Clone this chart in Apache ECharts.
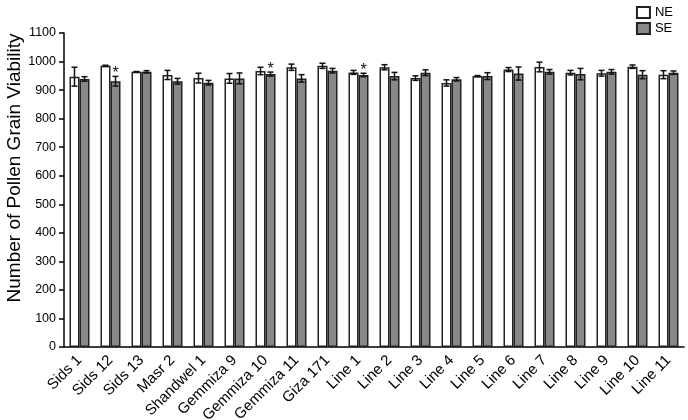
<!DOCTYPE html>
<html>
<head>
<meta charset="utf-8">
<script src="https://cdn.jsdelivr.net/npm/echarts@6/dist/echarts.min.js"></script>
<style>
  html, body { margin: 0; padding: 0; background: #fff; }
  #chart { width: 688px; height: 420px; }
</style>
</head>
<body>
<div id="chart"></div>
<script>
// varieties / lines
const categories = ['Sids 1', 'Sids 12', 'Sids 13', 'Masr 2', 'Shandwel 1', 'Gemmiza 9', 'Gemmiza 10',
  'Gemmiza 11', 'Giza 171', 'Line 1', 'Line 2', 'Line 3', 'Line 4', 'Line 5', 'Line 6', 'Line 7',
  'Line 8', 'Line 9', 'Line 10', 'Line 11']

// NE means and error
const neMean = [947, 985, 964, 953, 942, 941, 967, 980, 985, 962, 980, 942, 925, 949, 972, 981, 961, 959, 982, 954]
const neErr = [33, 2, 1, 16, 17, 17, 13, 11, 9, 7, 9, 8, 11, 2, 7, 17, 8, 10, 6, 14]

// SE means and error
const seMean = [939, 931, 964, 931, 926, 941, 956, 941, 968, 953, 949, 961, 938, 949, 958, 964, 956, 964, 954, 961]
const seErr = [8, 17, 4, 10, 8, 19, 7, 13, 8, 6, 13, 10, 6, 12, 23, 8, 20, 8, 14, 6]

// significance marks above SE
const seStar = [0, 1, 0, 0, 0, 0, 1, 0, 0, 1, 0, 0, 0, 0, 0, 0, 0, 0, 0, 0]

const yTicks = { min: 0, max: 1100, interval: 100 }

const FONT = 'Liberation Sans, Arial, sans-serif'
const BAR_W = 10

const chart = echarts.init(document.getElementById('chart'))

function errorBars(mean, err, stars, offset) {
  return {
    type: 'custom',
    z: 5,
    data: mean.map((m, i) => [i, m, err[i], stars ? stars[i] : 0]),
    renderItem(params, api) {
      const idx = api.value(0)
      const m = api.value(1)
      const e = api.value(2)
      const top = api.coord([idx, m + e])
      const bot = api.coord([idx, m - e])
      const x = top[0] + offset
      const cap = 3
      const st = { stroke: '#111', lineWidth: 1.5 }
      const children = [
        { type: 'line', shape: { x1: x, y1: top[1], x2: x, y2: bot[1] }, style: st },
        { type: 'line', shape: { x1: x - cap, y1: top[1], x2: x + cap, y2: top[1] }, style: st },
        { type: 'line', shape: { x1: x - cap, y1: bot[1], x2: x + cap, y2: bot[1] }, style: st }
      ]
      if (api.value(3)) {
        children.push({
          type: 'text',
          style: {
            text: '*', x: x, y: top[1] - 3, textAlign: 'center', textVerticalAlign: 'middle',
            font: '16px ' + FONT, fill: '#111'
          }
        })
      }
      return { type: 'group', children }
    }
  }
}

chart.setOption({
  animation: false,
  grid: { left: 64, right: 4, top: 33, bottom: 73, outerBoundsMode: 'none' },
  legend: {
    orient: 'vertical',
    right: 10,
    top: 1,
    icon: 'rect',
    itemWidth: 13,
    itemHeight: 11,
    itemGap: 3,
    textStyle: { fontFamily: FONT, fontSize: 13, color: '#000' },
    data: ['NE', 'SE']
  },
  graphic: [{
    type: 'text',
    x: 15,
    y: 168,
    rotation: Math.PI / 2,
    style: {
      text: 'Number of Pollen Grain Viability',
      textAlign: 'center',
      textVerticalAlign: 'middle',
      font: '19px ' + FONT,
      fill: '#000'
    }
  }],
  xAxis: {
    type: 'category',
    data: categories,
    axisLine: { lineStyle: { color: '#000', width: 1.5 } },
    axisTick: { alignWithLabel: true, length: 5, lineStyle: { color: '#000', width: 1.5 } },
    axisLabel: { interval: 0, rotate: 45, margin: 11, fontFamily: FONT, fontSize: 15, color: '#000' }
  },
  yAxis: {
    type: 'value',
    min: yTicks.min,
    max: yTicks.max,
    interval: yTicks.interval,
    splitLine: { show: false },
    axisLine: { show: true, lineStyle: { color: '#000', width: 1.5 } },
    axisTick: { show: true, length: 5, lineStyle: { color: '#000', width: 1.5 } },
    axisLabel: { margin: 8, fontFamily: FONT, fontSize: 12.5, color: '#000', formatter: v => String(v) }
  },
  series: [
    {
      name: 'NE',
      type: 'bar',
      data: neMean,
      barWidth: BAR_W,
      barGap: '0%',
      itemStyle: { color: '#fff', borderColor: '#222', borderWidth: 1.5 }
    },
    {
      name: 'SE',
      type: 'bar',
      data: seMean,
      barWidth: BAR_W,
      barGap: '0%',
      itemStyle: { color: '#888', borderColor: '#222', borderWidth: 1.5 }
    },
    errorBars(neMean, neErr, null, -BAR_W / 2),
    errorBars(seMean, seErr, seStar, BAR_W / 2)
  ]
})
</script>
</body>
</html>
